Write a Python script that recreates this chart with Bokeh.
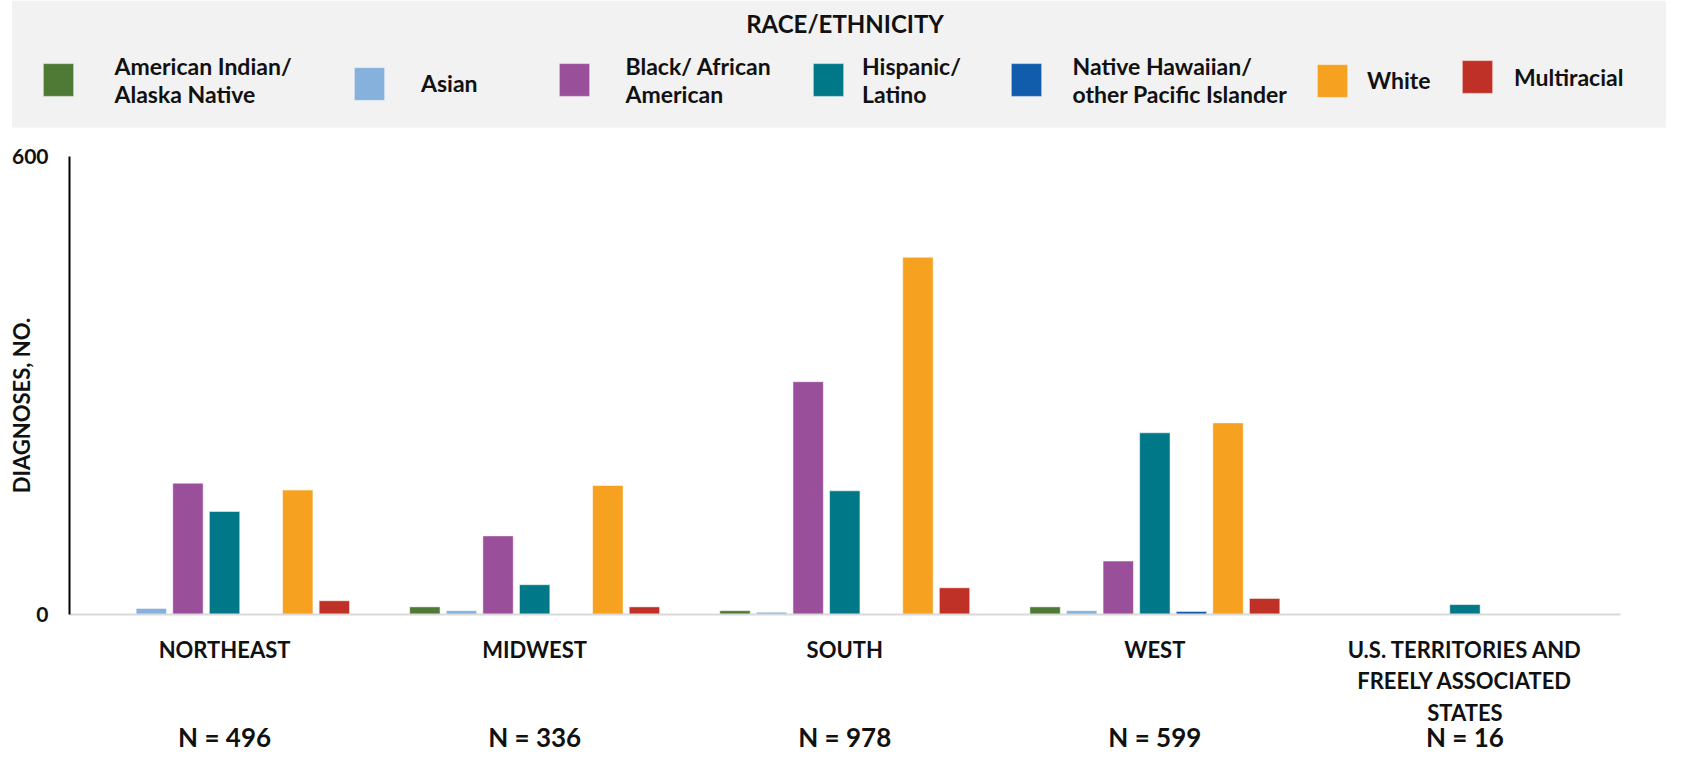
import math
from bokeh.plotting import figure
from bokeh.models import (Range1d, FixedTicker, LinearAxis, Legend, LegendItem, Label,
                          ColumnDataSource, BoxAnnotation)
from bokeh.transform import dodge
from bokeh.embed import file_html
from bokeh.resources import INLINE

# ---------------- data ----------------
region_labels = ["NORTHEAST", "MIDWEST", "SOUTH", "WEST",
                 "U.S. TERRITORIES AND\nFREELY ASSOCIATED\nSTATES"]
region_n = ["N = 496", "N = 336", "N = 978", "N = 599", "N = 16"]
race_labels = ["American Indian/\nAlaska Native", "Asian", "Black/ African\nAmerican",
               "Hispanic/\nLatino", "Native Hawaiian/\nother Pacific Islander",
               "White", "Multiracial"]
american_indian = [0, 10, 5, 10, 0]
asian = [8, 5, 3, 5, 0]
black = [172, 103, 305, 70, 0]
hispanic = [135, 39, 162, 238, 13]
native_hawaiian = [0, 0, 0, 4, 0]
white = [163, 169, 468, 251, 0]
multiracial = [18, 10, 35, 21, 0]
y_ticks = [0, 600]
y_title = "DIAGNOSES, NO."
legend_title = "RACE/ETHNICITY"

colors = ["#4F7A35", "#85B1DC", "#9A4F9A", "#007887", "#115DAB", "#F6A11F", "#BF3126"]
FONT = "Lato"
TXT = "#111111"

series = [american_indian, asian, black, hispanic, native_hawaiian, white, multiracial]
keys = ["ai", "asian", "black", "hisp", "nhopi", "white", "multi"]
region_x = [i + 0.5 for i in range(len(region_labels))]
data = dict(x=region_x)
for k, s in zip(keys, series):
    data[k] = s
src = ColumnDataSource(data)

# ---------------- geometry (screen layout) ----------------
W, H = 1666, 754              # the frame covers the whole canvas
AX_X = 69                     # canvas x of the y axis
CAT_W = 310.1                 # pixels per region
Y0 = 614                      # canvas y of value 0
Y600 = 156                    # canvas y of value 600
px_per_unit = (Y0 - Y600) / 600.0
x_start = -AX_X / CAT_W
x_end = (W - AX_X) / CAT_W
y_start = -(H - Y0) / px_per_unit
y_end = Y0 / px_per_unit


def up(canvas_y):
    """screen offset from the frame bottom for a canvas y measured from the top"""
    return H - canvas_y


p = figure(x_range=Range1d(x_start, x_end), y_range=Range1d(y_start, y_end),
           width=W, height=H, output_backend="svg", toolbar_location=None,
           min_border=0, outline_line_color=None,
           x_axis_type=None, y_axis_type=None)
p.grid.visible = False

# gray legend band
band = BoxAnnotation(left=(11.5 - AX_X) / CAT_W, bottom=(Y0 - 127) / px_per_unit,
                     fill_color="#F2F2F2", fill_alpha=1.0, line_color=None, level="underlay")
p.add_layout(band)

# bars
pitch = 0.118
renderers = []
for j, (k, c) in enumerate(zip(keys, colors)):
    r = p.vbar(x=dodge("x", (j - 3) * pitch), top=k, bottom=0, width=0.098,
               source=src, fill_color=c, line_color="white", line_alpha=0.5)
    renderers.append(r)

# y axis
ya = LinearAxis(fixed_location=0, bounds=(0, 600), ticker=FixedTicker(ticks=y_ticks))
ya.major_tick_out = 0
ya.major_tick_in = 0
ya.minor_tick_line_color = None
ya.axis_line_color = "black"
ya.axis_line_width = 2
ya.major_label_text_font = FONT
ya.major_label_text_font_size = "21px"
ya.major_label_text_font_style = "bold"
ya.major_label_text_color = TXT
ya.major_label_standoff = 21
p.add_layout(ya, "left")

p.add_layout(Label(x=20.5, y=up(405), x_units="screen", y_units="screen",
                   text=y_title, angle=math.pi / 2, text_align="center",
                   text_baseline="middle", text_font=FONT, text_font_size="22px",
                   text_font_style="bold", text_color=TXT))

# x axis with region names (baseline at value 0)
xa = LinearAxis(fixed_location=0, bounds=(0, len(region_labels)),
                ticker=FixedTicker(ticks=region_x),
                major_label_overrides=dict(zip(region_x, region_labels)))
xa.axis_line_color = "#D9D9D9"
xa.axis_line_width = 2
xa.major_tick_out = 0
xa.major_tick_in = 0
xa.minor_tick_line_color = None
xa.major_label_text_font = FONT
xa.major_label_text_font_size = "22px"
xa.major_label_text_font_style = "bold"
xa.major_label_text_color = TXT
xa.major_label_text_line_height = 1.17
xa.major_label_standoff = 21
p.add_layout(xa, "below")

# row of group sizes
xa2 = LinearAxis(fixed_location=0, ticker=FixedTicker(ticks=region_x),
                 major_label_overrides=dict(zip(region_x, region_n)))
xa2.axis_line_color = None
xa2.major_tick_out = 0
xa2.major_tick_in = 0
xa2.minor_tick_line_color = None
xa2.major_label_text_font = FONT
xa2.major_label_text_font_size = "26px"
xa2.major_label_text_font_style = "bold"
xa2.major_label_text_color = TXT
xa2.major_label_standoff = 106
p.add_layout(xa2, "below")

# legend title
p.add_layout(Label(x=844.5, y=up(22.5), x_units="screen", y_units="screen",
                   text=legend_title, text_align="center", text_baseline="middle",
                   text_font=FONT, text_font_size="24px", text_font_style="bold",
                   text_color=TXT))

# legend entries: (left, canvas y of the entry's bottom, label standoff)
legend_layout = [(38.5, 107.5, 38), (350, 103.5, 33), (554.5, 107.5, 33), (809, 107.5, 15),
                 (1006.5, 107.5, 28), (1313, 100.5, 16), (1458, 97, 18)]
for r, lab, (x0, yb, st) in zip(renderers, race_labels, legend_layout):
    leg = Legend(items=[LegendItem(label=lab, renderers=[r])], location=(x0, up(yb)),
                 orientation="horizontal", glyph_width=38, glyph_height=41,
                 label_standoff=st, padding=0, margin=0, spacing=0,
                 border_line_color=None, background_fill_alpha=0,
                 label_text_font=FONT, label_text_font_size="23px",
                 label_text_font_style="bold", label_text_color=TXT,
                 label_text_line_height=1.2)
    p.add_layout(leg)

open("out.html", "w").write(file_html(p, INLINE))
